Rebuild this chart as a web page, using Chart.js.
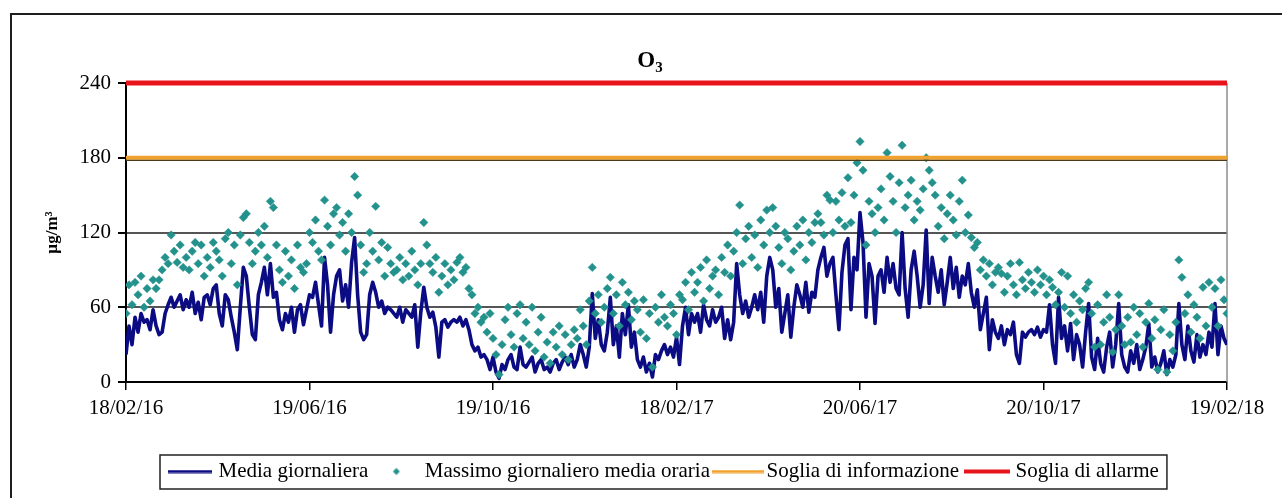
<!DOCTYPE html>
<html><head><meta charset="utf-8">
<script src="https://cdn.jsdelivr.net/npm/chart.js@4.4.1/dist/chart.umd.min.js"></script>
<style>html,body{margin:0;padding:0;background:#fff;}#wrap{width:1282px;height:498px;position:relative;}</style>
</head><body><div id="wrap"><canvas id="c" width="1282" height="498"></canvas></div>
<script>
// ---- data ----
const STEP_DAYS = 2; // one sample every 2 days, starting 18/02/16
const X_TICK_LABELS = ['18/02/16','19/06/16','19/10/16','18/02/17','20/06/17','20/10/17','19/02/18'];
const X_TICK_STEP_DAYS = 122;
const Y_MIN = 0, Y_MAX = 240, Y_STEP = 60;
const SERIES_NAMES = ['Media giornaliera','Massimo giornaliero media oraria','Soglia di informazione','Soglia di allarme'];
const SOGLIA_INFORMAZIONE = 180;
const SOGLIA_ALLARME = 240;

const MEDIA_GIORNALIERA = [
 22,45,30,52,40,55,48,50,42,58,
 45,38,40,55,62,68,60,65,70,58,
 66,60,72,55,64,50,68,70,62,75,
 78,55,45,70,66,52,40,26,60,92,
 85,60,38,34,70,80,92,70,95,68,
 72,50,42,55,48,60,40,58,62,46,
 58,70,68,80,62,45,100,78,40,70,
 85,90,65,78,60,96,116,70,40,34,
 38,70,80,72,60,65,55,60,58,55,
 52,60,48,58,55,52,62,28,56,76,
 60,52,56,44,20,48,50,44,48,50,
 48,52,45,50,42,30,25,28,20,22,
 18,10,20,8,3,14,10,18,22,12,
 10,28,14,12,16,20,8,15,18,10,
 12,8,15,18,10,16,20,14,22,12,
 18,30,22,12,28,71,35,50,30,25,
 40,68,30,45,20,55,38,62,28,40,
 18,12,20,8,15,4,22,18,25,30,
 22,28,20,36,14,45,60,38,55,48,
 55,40,62,50,45,58,48,52,60,35,
 50,34,48,95,70,55,65,52,60,70,
 58,72,48,85,100,90,60,75,40,55,
 70,36,60,78,70,60,80,56,72,68,
 90,100,108,85,95,100,70,42,88,110,
 115,58,100,90,136,112,52,95,85,47,
 85,90,72,100,80,95,75,70,120,75,
 52,90,105,85,60,78,122,63,100,85,
 72,90,62,80,100,75,92,68,85,78,
 95,72,60,74,42,55,68,26,50,40,
 35,45,30,42,38,48,22,15,40,36,
 40,42,38,44,36,42,40,62,30,15,
 68,35,45,25,47,18,38,30,12,40,
 63,20,10,35,15,8,28,40,12,30,
 63,22,12,8,25,15,30,10,18,28,
 47,12,20,8,15,25,6,18,12,22,
 63,30,18,45,25,16,38,20,30,22,
 40,28,63,22,45,35,30
];
const MASSIMO_GIORNALIERO = [
 55,78,62,80,70,85,60,75,65,82,
 75,82,90,100,95,118,105,96,110,92,
 100,90,105,112,95,110,85,100,92,112,
 105,98,85,115,120,95,110,78,118,132,
 135,112,95,105,120,110,125,100,145,140,
 110,90,80,105,85,98,75,110,92,88,
 95,120,112,130,105,98,146,125,110,135,
 140,118,128,105,135,120,165,150,110,88,
 95,120,105,141,98,112,85,108,95,88,
 90,100,82,95,85,105,90,78,95,128,
 110,95,88,100,72,85,95,78,90,82,
 96,100,88,92,75,70,55,60,48,52,
 40,55,35,22,6,30,50,60,38,28,
 55,62,35,48,30,60,25,40,52,20,
 32,15,40,28,45,22,38,18,30,42,
 35,58,45,30,65,92,55,70,48,60,
 75,84,55,70,45,80,62,72,50,65,
 58,40,66,35,55,12,60,48,70,52,
 45,62,55,38,70,66,80,58,88,72,
 80,92,65,98,75,85,90,70,100,88,
 110,85,105,120,142,95,115,125,100,118,
 92,130,110,138,120,140,125,108,95,120,
 115,90,105,125,110,130,98,120,112,128,
 135,128,118,150,146,120,145,130,152,125,
 164,128,150,176,193,170,110,145,135,120,
 140,155,130,184,165,145,120,160,190,140,
 150,162,130,145,138,155,180,170,160,150,
 125,140,115,135,150,130,118,145,162,120,
 134,116,108,112,90,98,85,95,78,88,
 92,87,72,85,95,78,70,96,82,75,
 88,80,72,90,78,85,70,82,76,62,
 72,88,60,85,55,70,48,65,58,75,
 80,55,28,62,30,48,70,52,24,42,
 70,45,30,52,32,60,38,55,28,48,
 63,35,50,10,42,58,8,38,25,48,
 98,84,55,70,40,62,52,35,76,45,
 80,60,75,45,82,66,55
];

// ---- styles ----
const COLOR_MEDIA = '#0b0b84';
const COLOR_MAX = '#23918c';
const COLOR_INFO = '#f0a12e';
const COLOR_ALL = '#e8141b';
const FONT_FAMILY = '"Liberation Serif", "Times New Roman", serif';
const LAST_DAY = X_TICK_STEP_DAYS * (X_TICK_LABELS.length - 1);

const toXY = arr => arr.map((v, i) => ({x: i * STEP_DAYS, y: v}));

function makeIcon(w, h, draw) {
  const c = document.createElement('canvas');
  c.width = w; c.height = h;
  draw(c.getContext('2d'), w, h);
  return c;
}
const ICONS = [
  makeIcon(44, 4, (x, w) => { x.fillStyle = COLOR_MEDIA; x.fillRect(0, 0.5, w, 3); }),
  makeIcon(10, 10, (x) => { x.fillStyle = COLOR_MAX; x.beginPath(); x.moveTo(5, 1.5); x.lineTo(8.5, 5); x.lineTo(5, 8.5); x.lineTo(1.5, 5); x.closePath(); x.fill(); }),
  makeIcon(52, 4, (x, w) => { x.fillStyle = COLOR_INFO; x.fillRect(0, 0.5, w, 3); }),
  makeIcon(46, 5, (x, w) => { x.fillStyle = COLOR_ALL; x.fillRect(0, 0.5, w, 4); })
];
const ICON_COLORS = [COLOR_MEDIA, COLOR_MAX, COLOR_INFO, COLOR_ALL];

const decor = {
  id: 'decor',
  beforeDraw(chart) {
    const ctx = chart.ctx;
    ctx.save();
    ctx.fillStyle = '#fff';
    ctx.fillRect(0, 0, chart.width, chart.height);
    ctx.strokeStyle = '#1e1e1e';
    ctx.lineWidth = 2;
    ctx.strokeRect(11, 14, chart.width + 20, chart.height + 20);
    ctx.restore();
  },
  afterUpdate(chart) {
    const lg = chart.legend;
    if (!lg || !lg.legendHitBoxes || !lg.legendHitBoxes.length) return;
    const hb = lg.legendHitBoxes;
    const dx = 172 - hb[0].left;
    lg.left += dx; lg.right += dx;
    hb.forEach(h => { h.left += dx; });
  },
  beforeDatasetsDraw(chart) {
    const {ctx, chartArea: a} = chart;
    ctx.save();
    ctx.strokeStyle = '#8c8c8c';
    ctx.lineWidth = 1.5;
    ctx.beginPath();
    ctx.moveTo(a.right, a.top);
    ctx.lineTo(a.right, a.bottom);
    ctx.stroke();
    ctx.restore();
  },
  afterDatasetsDraw(chart) {
    // dark shadow edge under the orange threshold line
    const {ctx, chartArea: a, scales} = chart;
    const y = scales.y.getPixelForValue(SOGLIA_INFORMAZIONE) + 2.6;
    ctx.save();
    ctx.strokeStyle = '#4a3a1a';
    ctx.lineWidth = 1.3;
    ctx.beginPath();
    ctx.moveTo(a.left, y);
    ctx.lineTo(a.right, y);
    ctx.stroke();
    ctx.restore();
  },
  afterDraw(chart) {
    const ctx = chart.ctx;
    ctx.save();
    // title O3 with subscript
    ctx.fillStyle = '#000';
    ctx.textBaseline = 'alphabetic';
    ctx.font = 'bold 23px ' + FONT_FAMILY;
    const wO = ctx.measureText('O').width;
    ctx.font = 'bold 15px ' + FONT_FAMILY;
    const w3 = ctx.measureText('3').width;
    const cx = 650;
    const x0 = cx - (wO + w3) / 2;
    ctx.font = 'bold 23px ' + FONT_FAMILY;
    ctx.fillText('O', x0, 67);
    ctx.font = 'bold 15px ' + FONT_FAMILY;
    ctx.fillText('3', x0 + wO, 72);
    // legend frame
    const lg = chart.legend;
    if (lg && lg.legendHitBoxes && lg.legendHitBoxes.length) {
      const hb = lg.legendHitBoxes;
      const first = hb[0], last = hb[hb.length - 1];
      const lx0 = first.left - 12, lx1 = last.left + last.width + 8;
      const ly0 = lg.top + 4, ly1 = lg.bottom - 3;
      ctx.strokeStyle = '#222';
      ctx.lineWidth = 1.5;
      ctx.strokeRect(lx0, ly0, lx1 - lx0, ly1 - ly0);
    }
    ctx.restore();
  }
};

new Chart(document.getElementById('c'), {
  type: 'line',
  data: {
    datasets: [
      {
        label: SERIES_NAMES[0],
        data: toXY(MEDIA_GIORNALIERA),
        borderColor: COLOR_MEDIA,
        backgroundColor: COLOR_MEDIA,
        borderWidth: 3.6,
        borderJoinStyle: 'round',
        pointRadius: 0,
        tension: 0,
        order: 3
      },
      {
        label: SERIES_NAMES[1],
        data: toXY(MASSIMO_GIORNALIERO),
        showLine: false,
        pointStyle: 'rectRot',
        pointRadius: 4.2,
        pointBackgroundColor: COLOR_MAX,
        pointBorderColor: COLOR_MAX,
        pointBorderWidth: 0.5,
        borderColor: COLOR_MAX,
        backgroundColor: COLOR_MAX,
        order: 2
      },
      {
        label: SERIES_NAMES[2],
        data: [{x: 0, y: SOGLIA_INFORMAZIONE}, {x: LAST_DAY, y: SOGLIA_INFORMAZIONE}],
        borderColor: COLOR_INFO,
        backgroundColor: COLOR_INFO,
        borderWidth: 4,
        pointRadius: 0,
        clip: false,
        order: 1
      },
      {
        label: SERIES_NAMES[3],
        data: [{x: 0, y: SOGLIA_ALLARME}, {x: LAST_DAY, y: SOGLIA_ALLARME}],
        borderColor: COLOR_ALL,
        backgroundColor: COLOR_ALL,
        borderWidth: 5,
        pointRadius: 0,
        clip: false,
        order: 0
      }
    ]
  },
  options: {
    responsive: false,
    animation: false,
    devicePixelRatio: 1,
    layout: {padding: {top: 83, right: 55, bottom: 6, left: 0}},
    scales: {
      x: {
        type: 'linear',
        min: 0,
        max: LAST_DAY,
        ticks: {
          stepSize: X_TICK_STEP_DAYS,
          autoSkip: false,
          maxRotation: 0,
          color: '#000',
          padding: 6,
          font: {family: FONT_FAMILY, size: 21},
          callback: v => X_TICK_LABELS[Math.round(v / X_TICK_STEP_DAYS)]
        },
        grid: {drawOnChartArea: false, drawTicks: true, tickLength: 8, tickColor: '#000', lineWidth: 1.5},
        border: {color: '#000', width: 2},
        afterFit: s => { s.height = 69; }
      },
      y: {
        min: Y_MIN,
        max: Y_MAX,
        ticks: {
          stepSize: Y_STEP,
          color: '#000',
          padding: 7,
          font: {family: FONT_FAMILY, size: 21}
        },
        grid: {
          color: c => (c.tick && c.tick.value === 0) ? 'rgba(0,0,0,0)' : '#555',
          lineWidth: 2,
          tickLength: 8,
          tickColor: '#000',
          drawTicks: true
        },
        border: {color: '#000', width: 2},
        title: {
          display: true,
          text: 'µg/m³',
          color: '#000',
          font: {family: FONT_FAMILY, size: 17, weight: 'bold'},
          padding: {top: 42, bottom: 0}
        },
        afterFit: s => { s.width = 126; }
      }
    },
    plugins: {
      title: {display: false},
      tooltip: {enabled: false},
      legend: {
        display: true,
        position: 'bottom',
        align: 'center',
        labels: {
          usePointStyle: true,
          pointStyleWidth: 36,
          boxHeight: 21,
          padding: 10,
          color: '#000',
          font: {family: FONT_FAMILY, size: 21},
          generateLabels: () => SERIES_NAMES.map((t, i) => ({
            text: t,
            pointStyle: ICONS[i],
            fillStyle: ICON_COLORS[i],
            strokeStyle: ICON_COLORS[i],
            lineWidth: 1,
            hidden: false,
            datasetIndex: i,
            fontColor: '#000'
          }))
        }
      }
    }
  },
  plugins: [decor]
});
</script>
</body></html>
